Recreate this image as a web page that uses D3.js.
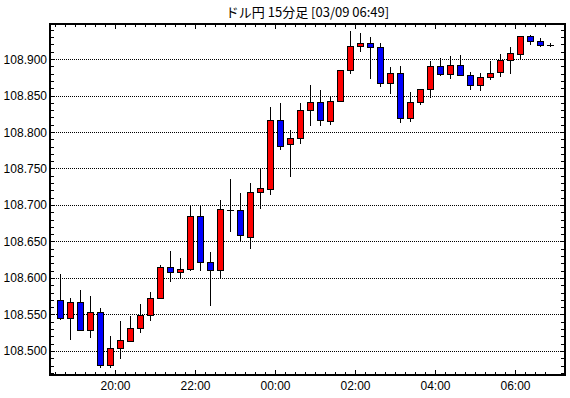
<!DOCTYPE html>
<html><head><meta charset="utf-8">
<script src="https://cdn.jsdelivr.net/npm/d3@7"></script>
<style>
html,body{margin:0;padding:0;background:#fff;}
svg{display:block;}
text{font-family:"Liberation Sans",Arial,sans-serif;fill:#000;}
</style></head><body>
<svg id="chart" width="570" height="398"></svg>
<script>
const title = "ドル円 15分足 [03/09 06:49]";
const times = ["18:30","18:45","19:00","19:15","19:30","19:45","20:00","20:15","20:30","20:45",
"21:00","21:15","21:30","21:45","22:00","22:15","22:30","22:45","23:00","23:15",
"23:30","23:45","00:00","00:15","00:30","00:45","01:00","01:15","01:30","01:45",
"02:00","02:15","02:30","02:45","03:00","03:15","03:30","03:45","04:00","04:15",
"04:30","04:45","05:00","05:15","05:30","05:45","06:00","06:15","06:30","06:45"];
const openP  = [108.570,108.545,108.567,108.529,108.553,108.481,108.504,108.513,108.531,108.549,
108.572,108.615,108.608,108.612,108.685,108.622,108.611,108.694,108.693,108.657,
108.718,108.723,108.817,108.784,108.792,108.830,108.841,108.816,108.843,108.885,
108.918,108.922,108.917,108.867,108.881,108.819,108.841,108.859,108.891,108.880,
108.892,108.878,108.864,108.875,108.882,108.899,108.908,108.932,108.925,108.919];
const highP  = [108.606,108.573,108.583,108.575,108.559,108.520,108.541,108.548,108.564,108.581,
108.618,108.637,108.628,108.700,108.700,108.635,108.707,108.736,108.717,108.730,
108.751,108.834,108.840,108.803,108.840,108.865,108.857,108.849,108.885,108.939,
108.936,108.930,108.922,108.889,108.891,108.855,108.859,108.897,108.901,108.904,
108.906,108.882,108.881,108.897,108.907,108.917,108.932,108.933,108.929,108.922];
const lowP   = [108.543,108.515,108.528,108.518,108.476,108.476,108.489,108.513,108.525,108.541,
108.572,108.595,108.599,108.610,108.609,108.562,108.600,108.663,108.649,108.640,
108.694,108.713,108.775,108.738,108.783,108.808,108.808,108.809,108.841,108.879,
108.909,108.872,108.861,108.852,108.812,108.814,108.837,108.847,108.877,108.872,
108.877,108.858,108.856,108.871,108.875,108.880,108.900,108.919,108.917,108.917];
const closeP = [108.545,108.567,108.529,108.554,108.481,108.504,108.515,108.531,108.549,108.572,
108.615,108.608,108.612,108.685,108.622,108.611,108.694,108.693,108.659,108.718,
108.723,108.817,108.782,108.792,108.830,108.841,108.816,108.843,108.885,108.918,
108.922,108.917,108.867,108.881,108.819,108.841,108.859,108.891,108.880,108.892,
108.878,108.864,108.875,108.881,108.899,108.908,108.932,108.925,108.919,108.919];
const gridValues = [108.500,108.550,108.600,108.650,108.700,108.750,108.800,108.850,108.900];
const xTickLabels = ["20:00","22:00","00:00","02:00","04:00","06:00"];

// build dates (03/08 18:30 -> 03/09 06:45)
function toDate(s){
  const [h,m] = s.split(":").map(Number);
  const day = h >= 12 ? 8 : 9;
  return new Date(2020, 2, day, h, m);
}
const data = times.map((t,i)=>({t:toDate(t), o:openP[i], h:highP[i], l:lowP[i], c:closeP[i]}));

const svg = d3.select("#chart");
const L = 50, R = 565, T = 24, B = 375;
const x = d3.scaleTime()
  .domain([new Date(2020,2,8,18,22,30), new Date(2020,2,9,7,15)])
  .range([L, R]);
const y = d3.scaleLinear().domain([108.467, 108.948]).range([B, T]);
const half = 7.5*60*1000;
const cx = d => Math.round(x(new Date(d.t.getTime()+half)));

// title
svg.append("text").attr("x", (L+R)/2).attr("y", 17).attr("text-anchor","middle")
  .style("font-family",'"Noto Sans CJK JP","Liberation Sans",sans-serif').style("font-size","13px")
  .text(title);

// gridlines
svg.append("g").selectAll("line").data(gridValues).join("line")
  .attr("x1", L).attr("x2", R)
  .attr("y1", d=>Math.round(y(d))+0.5).attr("y2", d=>Math.round(y(d))+0.5)
  .attr("stroke","#000").attr("stroke-width",1).attr("stroke-dasharray","1,1")
  .attr("shape-rendering","crispEdges");

// candles
const g = svg.append("g").attr("shape-rendering","crispEdges");
g.selectAll("line.wick").data(data).join("line").attr("class","wick")
  .attr("x1", d=>cx(d)+0.5).attr("x2", d=>cx(d)+0.5)
  .attr("y1", d=>y(d.h)).attr("y2", d=>y(d.l))
  .attr("stroke","#000").attr("stroke-width",1);
const bodies = data.filter(d=>Math.abs(y(d.o)-y(d.c)) >= 1.5);
const dojis = data.filter(d=>Math.abs(y(d.o)-y(d.c)) < 1.5);
g.selectAll("rect.body").data(bodies).join("rect").attr("class","body")
  .attr("x", d=>cx(d)-2.5).attr("width", 6)
  .attr("y", d=>Math.round(y(Math.max(d.o,d.c)))+0.5)
  .attr("height", d=>Math.round(Math.abs(y(d.o)-y(d.c))))
  .attr("fill", d=> d.c>=d.o ? "#ff0000" : "#0000ff")
  .attr("stroke","#000").attr("stroke-width",1);
g.selectAll("line.doji").data(dojis).join("line").attr("class","doji")
  .attr("x1", d=>cx(d)-3).attr("x2", d=>cx(d)+4)
  .attr("y1", d=>Math.round(y(d.c))+0.5).attr("y2", d=>Math.round(y(d.c))+0.5)
  .attr("stroke","#000").attr("stroke-width",1.5);

// frame
svg.append("rect").attr("x",L).attr("y",T).attr("width",R-L).attr("height",B-T)
  .attr("fill","none").attr("stroke","#000").attr("stroke-width",1.5)
  .attr("shape-rendering","crispEdges");

// x ticks (every 15 minutes, major at labelled hours)
const ax = svg.append("g").attr("shape-rendering","crispEdges");
const tickTimes = data.map(d=>d.t);
const isMajor = t => t.getMinutes()===0 && t.getHours()%2===0;
ax.selectAll("line.tb").data(tickTimes).join("line").attr("class","tb")
  .attr("x1", d=>Math.round(x(d))+0.5).attr("x2", d=>Math.round(x(d))+0.5)
  .attr("y1", B).attr("y2", d=> B - (isMajor(d)?5:3))
  .attr("stroke","#000");
ax.selectAll("line.tt").data(tickTimes).join("line").attr("class","tt")
  .attr("x1", d=>Math.round(x(d))+0.5).attr("x2", d=>Math.round(x(d))+0.5)
  .attr("y1", T).attr("y2", d=> T + (isMajor(d)?5:3))
  .attr("stroke","#000");
const labelTimes = tickTimes.filter(isMajor);
ax.selectAll("text").data(labelTimes).join("text")
  .attr("x", d=>x(d)+0.5).attr("y", 390).attr("text-anchor","middle")
  .style("font-size","12px")
  .text((d,i)=>xTickLabels[i]);

// y ticks every 0.01
const yTicks = d3.range(47, 95).map(v=>108 + v/100);
const ay = svg.append("g").attr("shape-rendering","crispEdges");
ay.selectAll("line.yl").data(yTicks).join("line").attr("class","yl")
  .attr("x1", L).attr("x2", L+4)
  .attr("y1", d=>Math.round(y(d))+0.5).attr("y2", d=>Math.round(y(d))+0.5)
  .attr("stroke","#000");
ay.selectAll("line.yr").data(yTicks).join("line").attr("class","yr")
  .attr("x1", R-4).attr("x2", R)
  .attr("y1", d=>Math.round(y(d))+0.5).attr("y2", d=>Math.round(y(d))+0.5)
  .attr("stroke","#000");
ay.selectAll("text").data(gridValues).join("text")
  .attr("x", 47).attr("y", d=>y(d)+4.5).attr("text-anchor","end")
  .style("font-size","12px")
  .text(d=>d3.format(".3f")(d));
</script>
</body></html>
